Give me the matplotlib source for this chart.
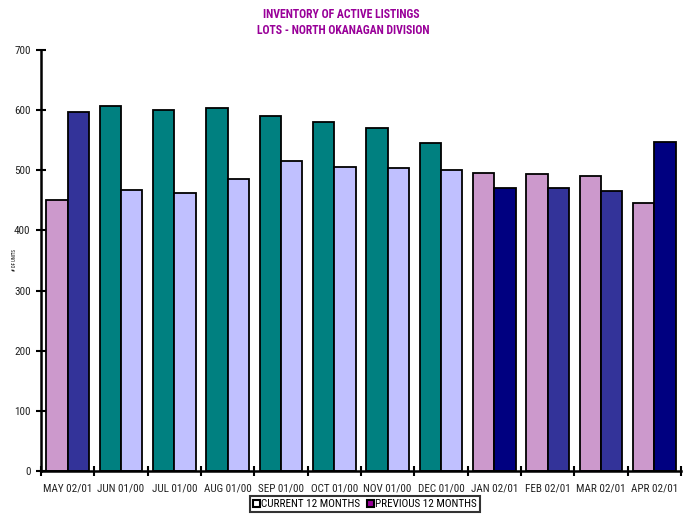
import matplotlib
matplotlib.use("Agg")
import matplotlib.pyplot as plt
from matplotlib.patches import Patch
from matplotlib import font_manager
import numpy as np

categories = ["MAY 02/01", "JUN 01/00", "JUL 01/00", "AUG 01/00", "SEP 01/00", "OCT 01/00",
              "NOV 01/00", "DEC 01/00", "JAN 02/01", "FEB 02/01", "MAR 02/01", "APR 02/01"]
current_vals = [451, 607, 600, 603, 590, 581, 571, 546, 496, 493, 490, 446]
previous_vals = [597, 467, 463, 486, 516, 506, 503, 501, 471, 471, 466, 547]

current_colors = ["#CC99CC"] + ["#008080"] * 7 + ["#CC99CC"] * 4
previous_colors = ["#333399"] + ["#C0C0FF"] * 7 + ["#000080", "#333399", "#333399", "#000080"]

y_ticks = [0, 100, 200, 300, 400, 500, 600, 700]

available = {f.name for f in font_manager.fontManager.ttflist}
condensed = None
for name in ["Liberation Sans Narrow", "Roboto Condensed", "Open Sans Condensed", "DejaVu Sans Condensed"]:
    if name in available:
        condensed = name
        break
if condensed:
    family = [condensed, "Liberation Sans", "DejaVu Sans"]
    fs_tick, fs_title = 8, 8.5
else:
    family = ["Liberation Sans", "DejaVu Sans"]
    fs_tick, fs_title = 6.6, 7.6
plt.rcParams["font.family"] = family

fig = plt.figure(figsize=(6.91, 5.17), dpi=100)
ax = fig.add_axes([41/691, 1 - 471/517, 640/691, 421/517])

x = np.arange(len(categories))
w = 0.4
ax.bar(x - w/2, current_vals, width=w, color=current_colors, edgecolor="black", linewidth=1.3)
ax.bar(x + w/2, previous_vals, width=w, color=previous_colors, edgecolor="black", linewidth=1.3)

ax.set_xlim(-0.5, len(categories) - 0.5)
ax.set_ylim(0, 700)
ax.set_yticks(y_ticks)
ax.set_yticklabels([str(v) for v in y_ticks], fontsize=fs_tick, color="#222222")

ax.set_xticks(np.arange(-0.5, len(categories), 1.0))
ax.set_xticklabels([])
ax.set_xticks(x, minor=True)
ax.set_xticklabels(categories, minor=True, fontsize=fs_tick, color="#222222")
ax.tick_params(axis="x", which="major", direction="inout", length=7, width=1.5)
ax.tick_params(axis="x", which="minor", length=0, pad=9)
ax.tick_params(axis="y", direction="inout", length=7, width=1.5, pad=4)

for s in ["top", "right"]:
    ax.spines[s].set_visible(False)
for s in ["left", "bottom"]:
    ax.spines[s].set_linewidth(1.8)

ax.set_ylabel("# OF UNITS", fontsize=3.5)
ax.yaxis.set_label_coords(-24/640, 0.5)

fig.text(0.494, 1 - 14/517, "INVENTORY OF ACTIVE LISTINGS", ha="center", va="center",
         fontsize=fs_title, fontweight="bold", color="#990099")
fig.text(0.497, 1 - 30/517, "LOTS - NORTH OKANAGAN DIVISION", ha="center", va="center",
         fontsize=fs_title, fontweight="bold", color="#990099")

handles = [Patch(facecolor="#FFFFFF", edgecolor="black", linewidth=1.5),
           Patch(facecolor="#990099", edgecolor="black", linewidth=1.5)]
leg = fig.legend(handles, ["CURRENT 12 MONTHS", "PREVIOUS 12 MONTHS"], loc="center",
                 bbox_to_anchor=(365/691, 1 - 504/517), ncol=2, fontsize=fs_tick,
                 frameon=True, fancybox=False, handlelength=0.6, handleheight=0.6,
                 handletextpad=0.15, columnspacing=0.6, borderpad=0.3, borderaxespad=0)
leg.get_frame().set_edgecolor("black")
leg.get_frame().set_linewidth(1.5)

fig.savefig("out.png", dpi=100)
